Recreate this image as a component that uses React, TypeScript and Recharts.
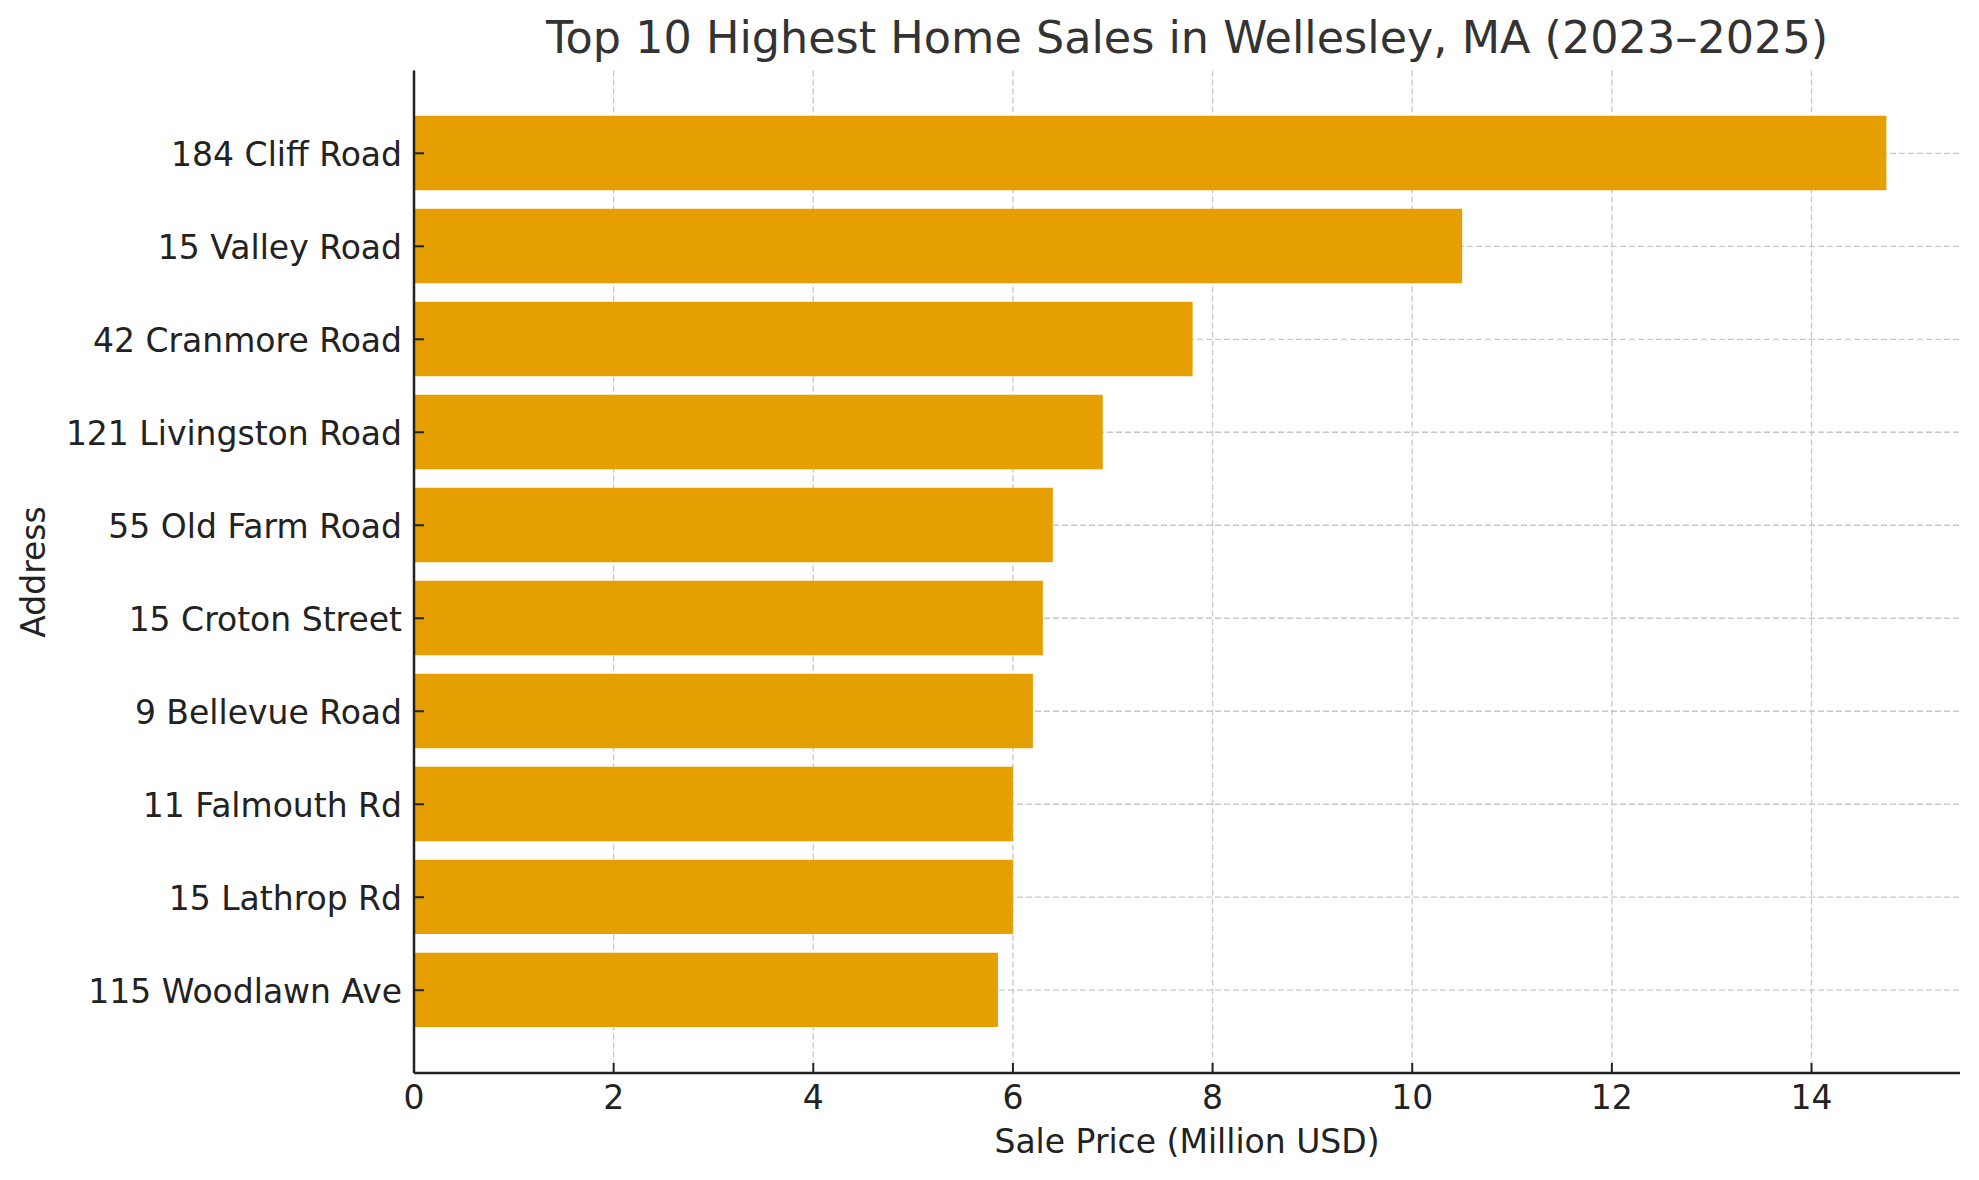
import React from 'react';
import { BarChart, Bar, XAxis, YAxis, CartesianGrid } from 'recharts';

const addresses = [
  '184 Cliff Road',
  '15 Valley Road',
  '42 Cranmore Road',
  '121 Livingston Road',
  '55 Old Farm Road',
  '15 Croton Street',
  '9 Bellevue Road',
  '11 Falmouth Rd',
  '15 Lathrop Rd',
  '115 Woodlawn Ave',
];

const prices = [14.75, 10.5, 7.8, 6.9, 6.4, 6.3, 6.2, 6.0, 6.0, 5.85];

const xTicks = [0, 2, 4, 6, 8, 10, 12, 14];

const W = 1979;
const H = 1180;
const FONT = '"DejaVu Sans", sans-serif';
const INK = '#222222';

const XTick = ({ x, y, payload }: any) => (
  <g>
    <line x1={x} y1={y} x2={x} y2={y - 10} stroke={INK} strokeWidth={2} />
    <text x={x} y={y + 36} textAnchor="middle" fontSize={33} fontFamily={FONT} fill={INK}>
      {payload.value}
    </text>
  </g>
);

const YTick = ({ x, y, payload }: any) => (
  <g>
    <line x1={x} y1={y} x2={x + 10} y2={y} stroke={INK} strokeWidth={2} />
    <text x={x - 12} y={y + 12.5} textAnchor="end" fontSize={33} fontFamily={FONT} fill={INK}>
      {payload.value}
    </text>
  </g>
);

export default function App() {
  const data = addresses.map((address, i) => ({ address, price: prices[i] }));

  return (
    <div style={{ position: 'absolute', left: 0, top: 0, width: W, height: H, background: '#fff' }}>
      <BarChart
        width={W}
        height={H}
        data={data}
        layout="vertical"
        margin={{ top: 70.5, right: 19, bottom: 47, left: 314 }}
      >
        <Bar dataKey="price" fill="#E69F00" barSize={74.4} isAnimationActive={false} />
        {/* grid sits over the bars, as in the source */}
        <CartesianGrid stroke="#c8c8c8" strokeDasharray="6 3" strokeWidth={1.3} syncWithTicks />
        <XAxis
          type="number"
          domain={[0, (dataMax: number) => dataMax * 1.05]}
          ticks={xTicks}
          allowDataOverflow
          height={60}
          tickSize={0}
          tickMargin={0}
          tick={<XTick />}
          axisLine={{ stroke: INK, strokeWidth: 2.5 }}
        />
        <YAxis
          type="category"
          dataKey="address"
          width={100}
          padding={{ top: 36.3, bottom: 36.3 }}
          tickSize={0}
          tickMargin={0}
          tick={<YTick />}
          interval={0}
          axisLine={{ stroke: INK, strokeWidth: 2.5 }}
        />
      </BarChart>
      <svg
        width={W}
        height={H}
        style={{ position: 'absolute', left: 0, top: 0, pointerEvents: 'none' }}
      >
        <text x={1187} y={53} textAnchor="middle" fontSize={44.5} fontFamily={FONT} fill="#333333">
          Top 10 Highest Home Sales in Wellesley, MA (2023–2025)
        </text>
        <text x={1187} y={1153} textAnchor="middle" fontSize={33} fontFamily={FONT} fill={INK}>
          Sale Price (Million USD)
        </text>
        <text
          x={45}
          y={572}
          textAnchor="middle"
          fontSize={33}
          fontFamily={FONT}
          fill={INK}
          transform="rotate(-90, 45, 572)"
        >
          Address
        </text>
      </svg>
    </div>
  );
}
